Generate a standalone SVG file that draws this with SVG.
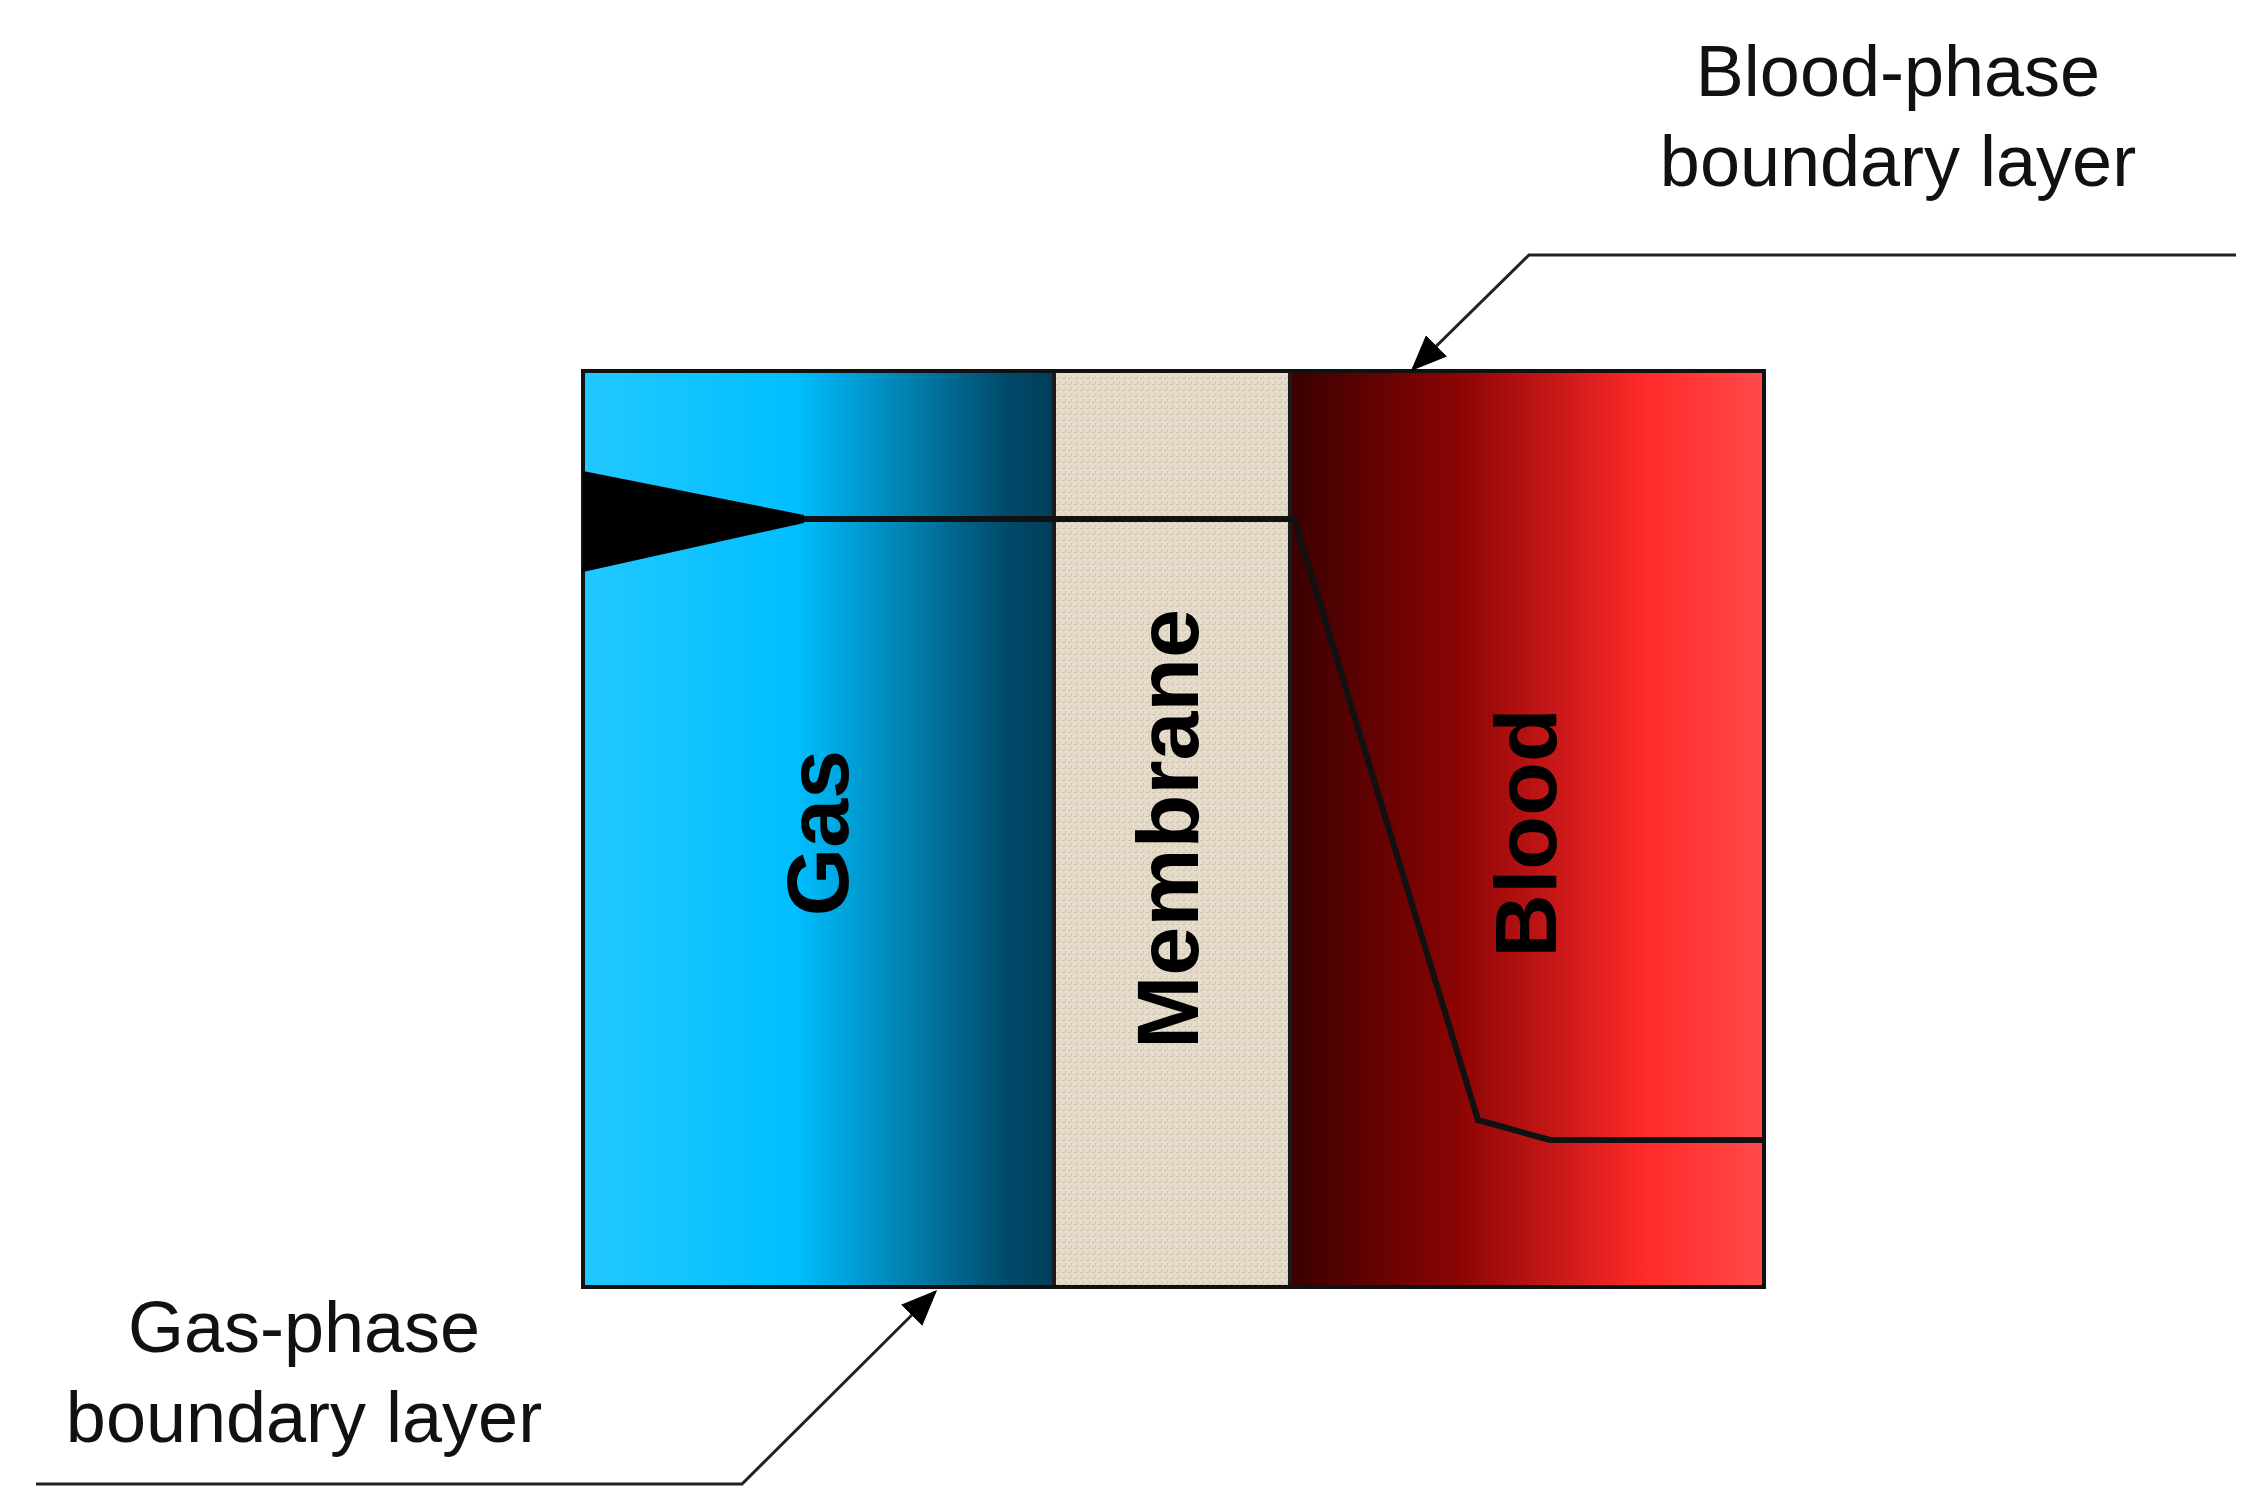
<svg xmlns="http://www.w3.org/2000/svg" width="2261" height="1512" viewBox="0 0 2261 1512">
<style>
.lbl{font-family:"Liberation Sans",Arial,sans-serif;font-size:72px;fill:#111;text-anchor:middle}
.big{font-family:"Liberation Sans",Arial,sans-serif;font-size:88px;font-weight:bold;fill:#000;text-anchor:middle}
.ld{fill:none;stroke:#222;stroke-width:3}
.div{stroke:#1a1a1a;stroke-width:4}
</style>
<defs>
<linearGradient id="gas" x1="0" x2="1" y1="0" y2="0">
<stop offset="0" stop-color="#22c8ff"/><stop offset="0.45" stop-color="#00bfff"/><stop offset="0.9" stop-color="#004a6a"/><stop offset="1" stop-color="#003e5a"/>
</linearGradient>
<linearGradient id="blood" x1="0" x2="1" y1="0" y2="0">
<stop offset="0" stop-color="#3a0000"/><stop offset="0.35" stop-color="#8a0404"/><stop offset="0.75" stop-color="#ff2a2a"/><stop offset="1" stop-color="#ff4a4a"/>
</linearGradient>
<pattern id="tex" width="6" height="6" patternUnits="userSpaceOnUse">
<rect width="6" height="6" fill="#e6dccb"/><rect width="3" height="1" fill="#cfc3ae"/><rect x="3" y="3" width="1" height="3" fill="#d4c8b4"/>
</pattern>
<marker id="ar" markerWidth="12" markerHeight="10" refX="11" refY="5" orient="auto" markerUnits="strokeWidth"><path d="M0,0 L12,5 L0,10 z" fill="#000"/></marker>
</defs>
<g id="gas-panel"><rect x="583" y="371" width="471" height="916" fill="url(#gas)"/>
<text class="big" transform="translate(848,833) rotate(-90)">Gas</text></g>
<g id="membrane-panel"><rect x="1054" y="371" width="236" height="916" fill="url(#tex)"/>
<text class="big" transform="translate(1198,829) rotate(-90)">Membrane</text></g>
<g id="blood-panel"><rect x="1290" y="371" width="474" height="916" fill="url(#blood)"/>
<text class="big" transform="translate(1556,833) rotate(-90)">Blood</text></g>
<line class="div" x1="1054" y1="371" x2="1054" y2="1287"/>
<line class="div" x1="1290" y1="371" x2="1290" y2="1287"/>
<rect x="583" y="371" width="1181" height="916" fill="none" stroke="#111" stroke-width="4"/>
<g id="profile">
<path d="M583,471 L804,515 L804,523 L583,572 Z" fill="#000"/>
<polyline points="804,519 1294,519 1478,1120 1550,1140 1764,1140" fill="none" stroke="#111" stroke-width="6"/>
</g>
<g id="blood-label"><text class="lbl" x="1898" y="96">Blood-phase</text><text class="lbl" x="1898" y="186">boundary layer</text></g>
<g id="gas-label"><text class="lbl" x="304" y="1352">Gas-phase</text><text class="lbl" x="304" y="1442">boundary layer</text></g>
<g id="connectors">
<polyline class="ld" points="2236,255 1529,255 1413,369" marker-end="url(#ar)"/>
<polyline class="ld" points="36,1484 742,1484 935,1292" marker-end="url(#ar)"/>
</g>
</svg>
